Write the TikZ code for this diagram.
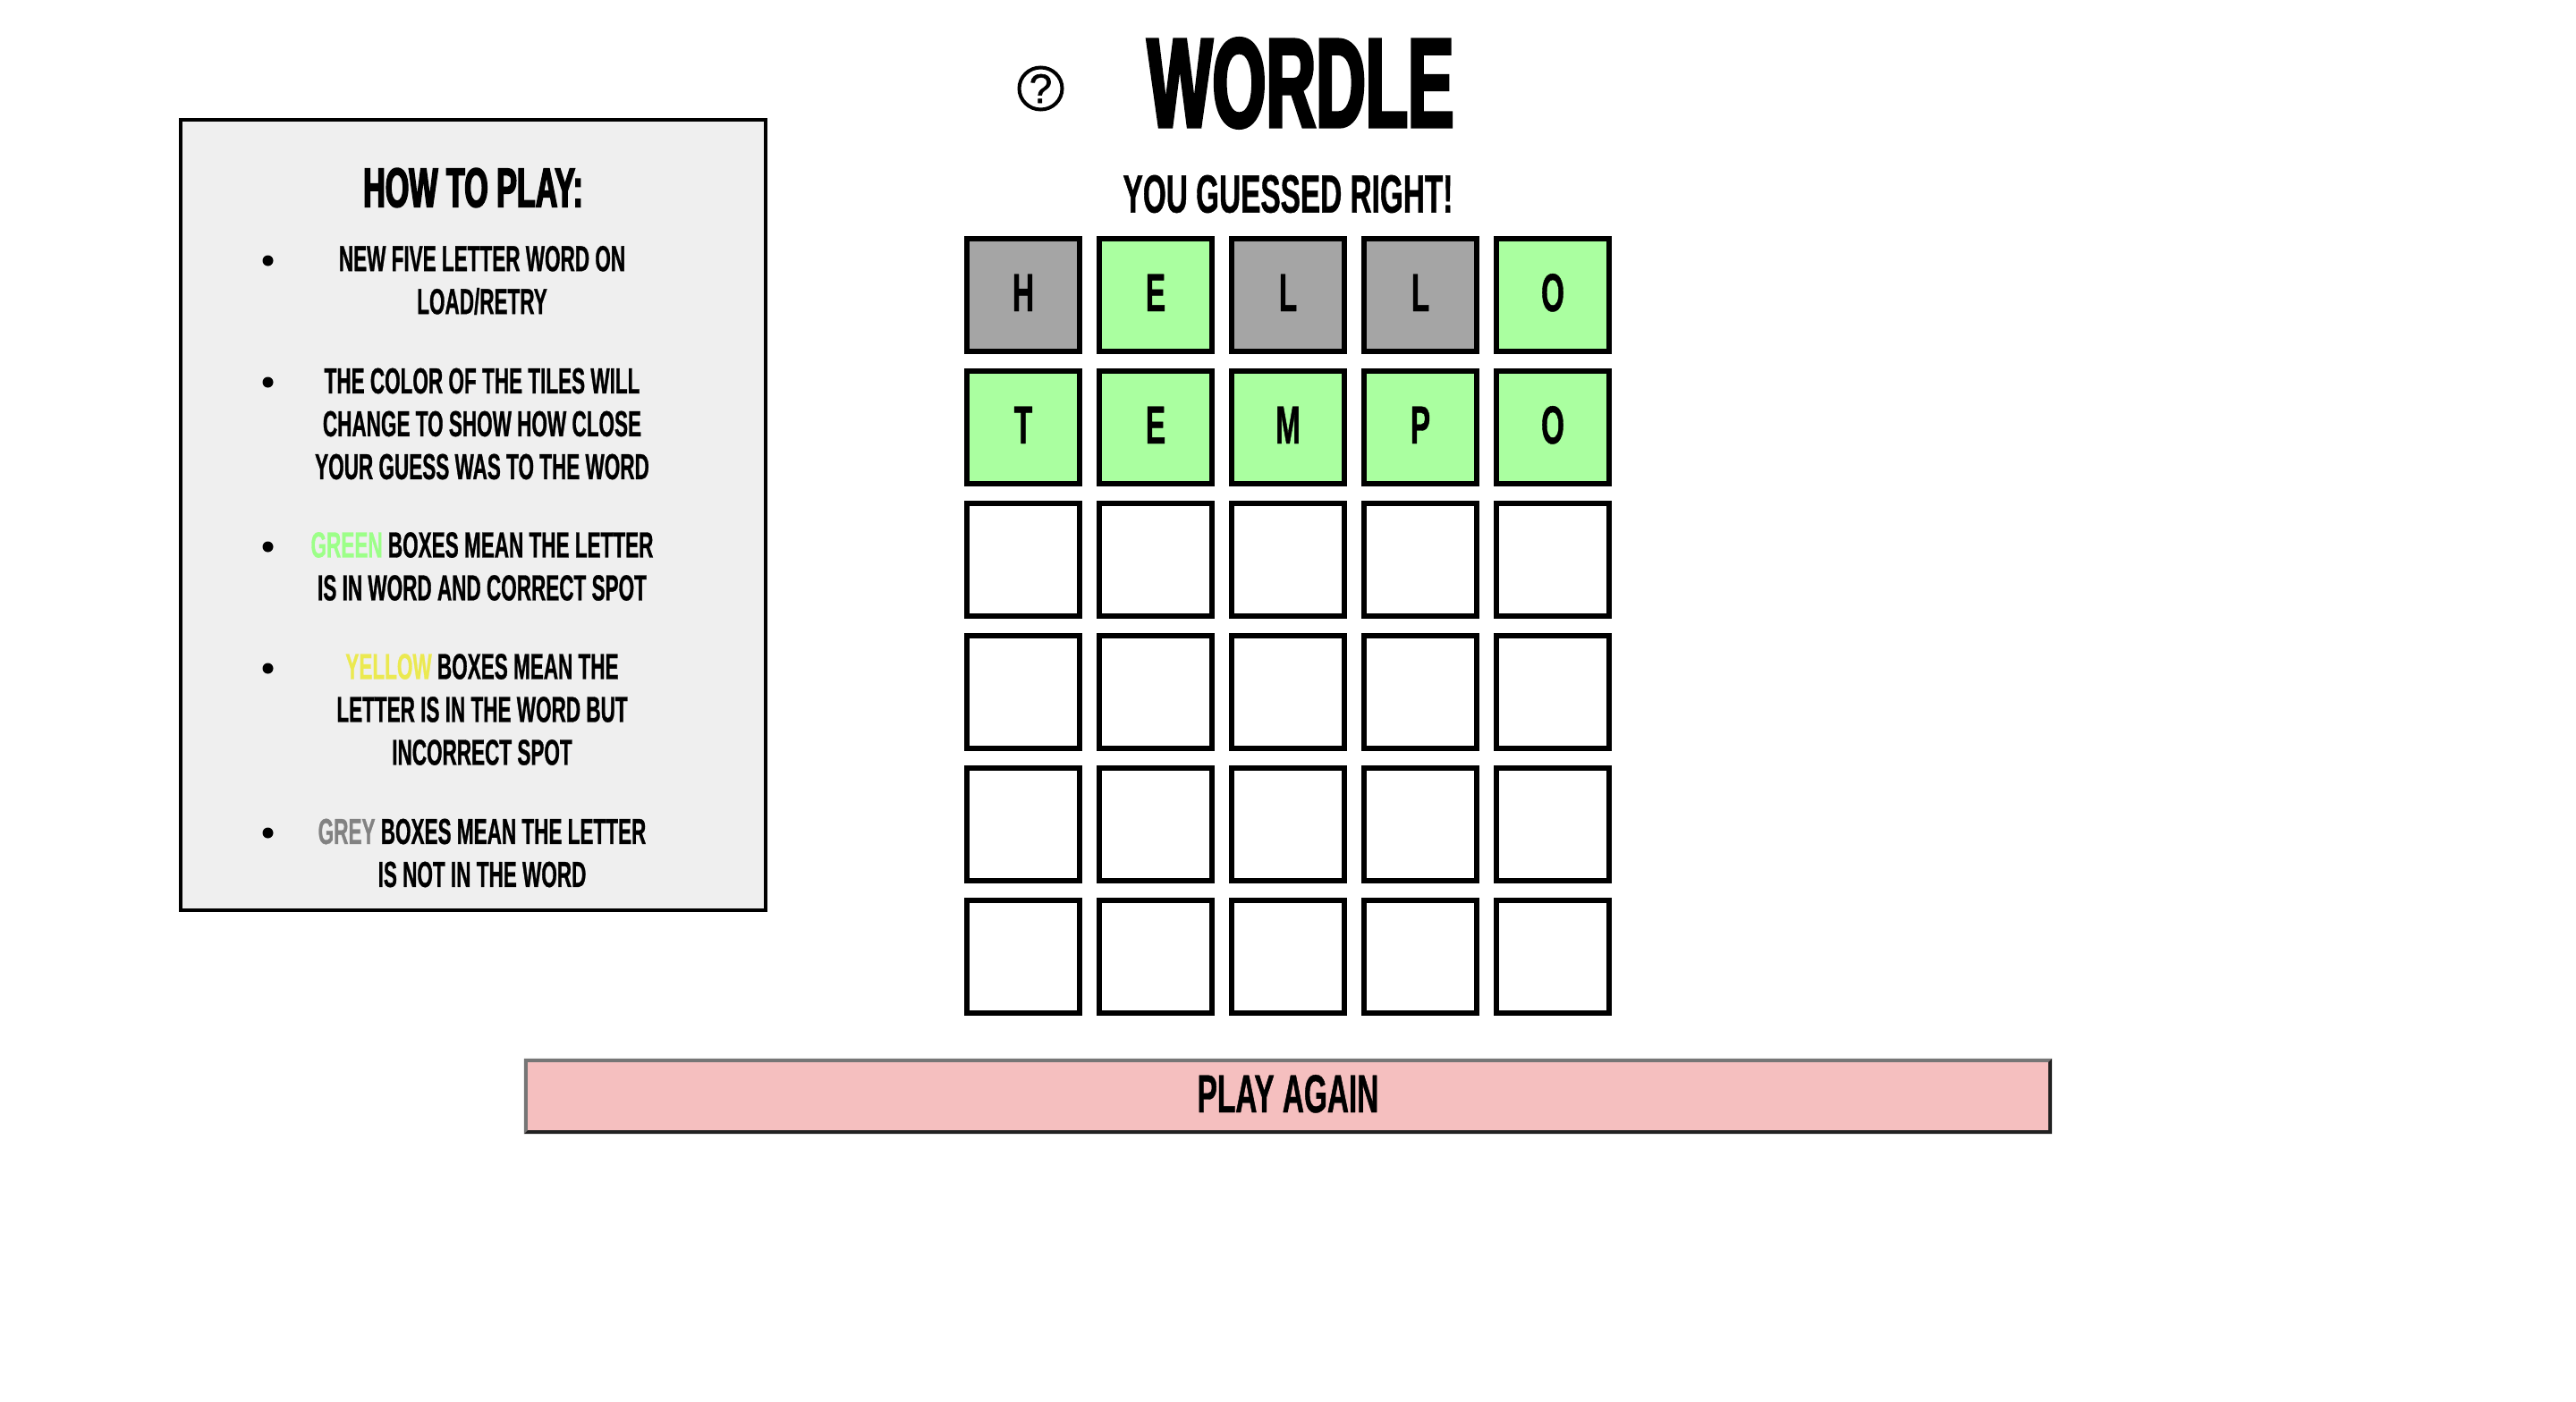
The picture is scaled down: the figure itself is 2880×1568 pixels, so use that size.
\documentclass[tikz,border=0pt]{standalone}
\usepackage{fontspec}
\usepackage{xcolor}
\usetikzlibrary{positioning,calc,shapes.geometric}
\newfontfamily\condfont{Liberation Sans}[UprightFont=* Bold,FakeStretch=0.556,FakeBold=0.7]
\newfontfamily\heavyfont{Liberation Sans}[UprightFont=* Bold,FakeStretch=0.55,FakeBold=2.5]
\newfontfamily\titlefont{Liberation Sans}[UprightFont=* Bold,FakeStretch=0.543,FakeBold=2.5]
\newfontfamily\signfont{Liberation Sans}[FakeBold=1.2]
\definecolor{tilegray}{HTML}{A5A5A5}
\definecolor{tilegreen}{HTML}{AAFFA0}
\definecolor{panelgray}{HTML}{EFEFEF}
\definecolor{wordgreen}{HTML}{9CFF88}
\definecolor{wordyellow}{HTML}{EBE950}
\definecolor{wordgray}{HTML}{828282}
\definecolor{againpink}{HTML}{F5BFBF}
\definecolor{againlight}{HTML}{767676}
\definecolor{againdark}{HTML}{212121}
\tikzset{
    tilebox/.style={draw,line width=6pt,minimum width=126pt,minimum height=126pt,inner sep=0pt,text height=43pt,text depth=7pt,font=\condfont\fontsize{60}{60}\selectfont},
    howitem/.style={align=center,inner sep=0pt,font=\condfont\fontsize{40.5}{48}\selectfont},
    howdot/.style={circle,fill=black,inner sep=0pt,minimum size=12pt},
}
\begin{document}
\begin{tikzpicture}[x=1pt,y=-1pt]
    \useasboundingbox (0,0) rectangle (2880,1568);
    % header
    \node[inner sep=0pt,font=\titlefont\fontsize{142}{142}\selectfont] (title) at (1454,93) {WORDLE};
    \node[draw,ellipse,line width=4pt,minimum width=48pt,minimum height=47pt,inner sep=0pt,font=\signfont\fontsize{46}{46}\selectfont] (help) at (1163.5,99) {?};
    \node[inner sep=0pt,font=\condfont\fontsize{60}{60}\selectfont] (result) at (1440,217) {YOU GUESSED RIGHT!};
    % how to play panel
    \node[draw,line width=4pt,fill=panelgray,minimum width=654pt,minimum height=884pt,inner sep=0pt] (panel) at (529,576) {};
    \node[inner sep=0pt,font=\heavyfont\fontsize{62}{62}\selectfont] (howtitle) at (529,210) {HOW TO PLAY:};
    \node[howitem] (item1) at (539,313.5) {NEW FIVE LETTER WORD ON\\LOAD/RETRY};
    \node[howitem] (item2) at (539,474) {THE COLOR OF THE TILES WILL\\CHANGE TO SHOW HOW CLOSE\\YOUR GUESS WAS TO THE WORD};
    \node[howitem] (item3) at (539,633.5) {\textcolor{wordgreen}{GREEN} BOXES MEAN THE LETTER\\IS IN WORD AND CORRECT SPOT};
    \node[howitem] (item4) at (539,793.5) {\textcolor{wordyellow}{YELLOW} BOXES MEAN THE\\LETTER IS IN THE WORD BUT\\INCORRECT SPOT};
    \node[howitem] (item5) at (539,954) {\textcolor{wordgray}{GREY} BOXES MEAN THE LETTER\\IS NOT IN THE WORD};
    \foreach \d/\y in {1/291.5,2/427.5,3/611.5,4/747.5,5/931.5}
        \node[howdot] (dot\d) at (299.5,\y) {};
    % guesses
    \foreach \letter/\shade [count=\c from 0] in {H/tilegray,E/tilegreen,L/tilegray,L/tilegray,O/tilegreen}
        \node[tilebox,fill=\shade] (a\c) at ({1144+148*\c},330) {\letter};
    \foreach \letter [count=\c from 0] in {T,E,M,P,O}
        \node[tilebox,fill=tilegreen] (b\c) at ({1144+148*\c},478) {\letter};
    % empty rows
    \foreach \r in {2,...,5}
        \foreach \c in {0,...,4}
            \node[tilebox] (t\r\c) at ({1144+148*\c},{330+148*\r}) {};
    % play again button
    \node[fill=againpink,minimum width=1708pt,minimum height=84pt,inner sep=0pt,text height=43pt,text depth=7pt,font=\condfont\fontsize{60}{60}\selectfont] (again) at (1440,1226) {PLAY AGAIN};
    \fill[againlight] (again.south west) -- (again.north west) -- (again.north east) -- ($(again.north east)+(-4,4)$) -- ($(again.north west)+(4,4)$) -- ($(again.south west)+(4,-4)$) -- cycle;
    \fill[againdark] (again.south west) -- (again.south east) -- (again.north east) -- ($(again.north east)+(-4,4)$) -- ($(again.south east)+(-4,-4)$) -- ($(again.south west)+(4,-4)$) -- cycle;
\end{tikzpicture}
\end{document}
